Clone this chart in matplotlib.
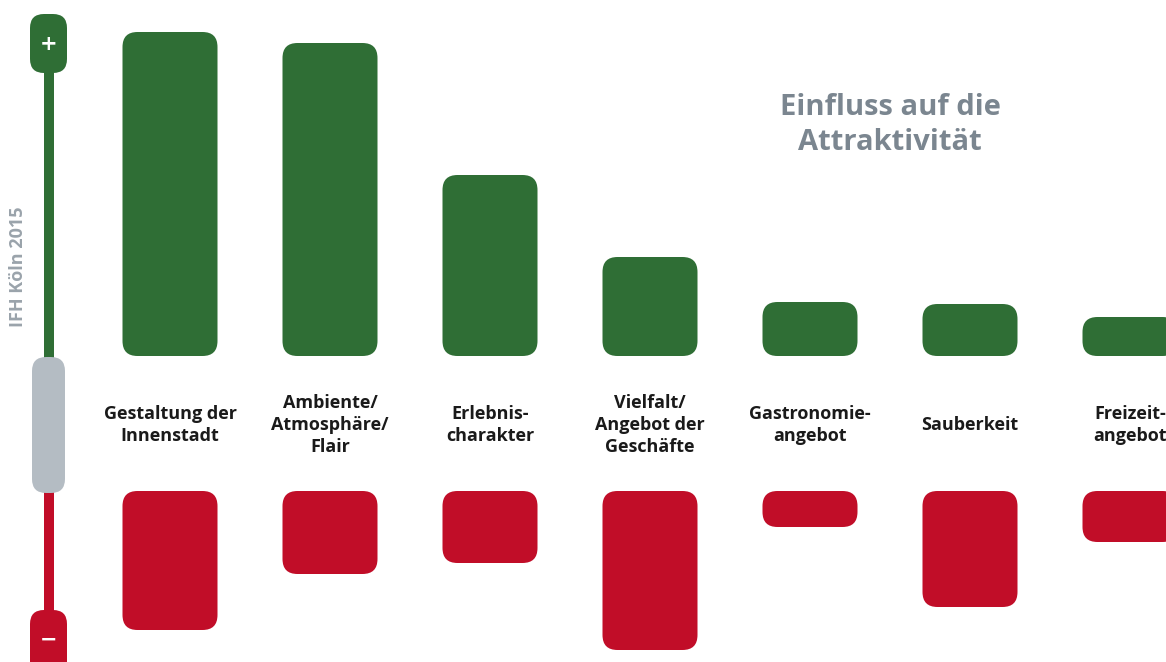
import matplotlib
matplotlib.use("Agg")
import matplotlib.pyplot as plt
from matplotlib.patches import FancyBboxPatch

# ---- data (relative influence, arbitrary units) ----
categories = ["Gestaltung der\nInnenstadt", "Ambiente/\nAtmosphäre/\nFlair",
              "Erlebnis-\ncharakter", "Vielfalt/\nAngebot der\nGeschäfte",
              "Gastronomie-\nangebot", "Sauberkeit", "Freizeit-\nangebot"]
positive = [324, 313, 181, 99, 54, 52, 39]
negative = [139, 83, 72, 159, 36, 116, 51]
title = "Einfluss auf die\nAttraktivität"
source = "IFH Köln 2015"

GREEN = "#2f6e35"
RED = "#c10d28"
GREY = "#b4bcc3"
TITLE_GREY = "#7b8690"

W, H = 1166, 662
fig = plt.figure(figsize=(W / 100, H / 100), dpi=100)
fig.patch.set_facecolor("white")

def fy(px):  # figure fraction from pixel-from-top
    return 1 - px / H

# x mapping: category i centre at 170 + 160*i px
x0 = -170 / 160
x1 = (W - 170) / 160
bar_w = 95 / 160

ax_top = fig.add_axes([0, fy(356), 1, 356 / H])
ax_top.set_xlim(x0, x1)
ax_top.set_ylim(0, 356)
ax_bot = fig.add_axes([0, 0, 1, (H - 491) / H])
ax_bot.set_xlim(x0, x1)
ax_bot.set_ylim(-(H - 491), 0)
for a in (ax_top, ax_bot):
    a.axis("off")

def rounded_bars(ax, values, sign, color, radius_px=15):
    fig.canvas.draw()
    bb = ax.get_window_extent()
    xl = ax.get_xlim(); yl = ax.get_ylim()
    xu = (xl[1] - xl[0]) / bb.width
    yu = (yl[1] - yl[0]) / bb.height
    aspect = yu / xu
    for i, v in enumerate(values):
        h = abs(v)
        r_px = min(radius_px, h / yu / 2.0)
        y = 0 if sign > 0 else -h
        p = FancyBboxPatch((i - bar_w / 2, y), bar_w, h,
                           boxstyle=f"round,pad=0,rounding_size={r_px * xu}",
                           mutation_aspect=aspect, fc=color, ec="none",
                           clip_on=True)
        ax.add_patch(p)

rounded_bars(ax_top, positive, 1, GREEN)
rounded_bars(ax_bot, negative, -1, RED)

# category labels
for i, c in enumerate(categories):
    fig.text((170 + 160 * i) / W, fy(425), c, ha="center", va="center",
             fontsize=13, fontweight="bold", color="#1a1a1a",
             family="Open Sans", linespacing=1.3)

# title
fig.text(890 / W, fy(125), title, ha="center", va="center", fontsize=21,
         fontweight="bold", color=TITLE_GREY, family="Open Sans",
         linespacing=1.24)

# source, vertical
fig.text(18 / W, fy(267), source, rotation=90, ha="center", va="center",
         fontsize=13, fontweight="bold", color="#9aa3ab", family="Open Sans")

# left scale decoration (pixel-space overlay)
deco = fig.add_axes([0, 0, 1, 1], zorder=-1)
deco.set_xlim(0, W)
deco.set_ylim(H, 0)
deco.axis("off")
deco.add_patch(plt.Rectangle((44, 60), 10, 300, fc=GREEN, ec="none"))
deco.add_patch(plt.Rectangle((44, 480), 10, 140, fc=RED, ec="none"))
deco.add_patch(FancyBboxPatch((30, 14), 37, 59,
               boxstyle="round,pad=0,rounding_size=14", fc=GREEN, ec="none"))
deco.add_patch(FancyBboxPatch((32, 357), 33, 136,
               boxstyle="round,pad=0,rounding_size=14", fc=GREY, ec="none"))
deco.add_patch(FancyBboxPatch((30, 610), 37, 70,
               boxstyle="round,pad=0,rounding_size=14", fc=RED, ec="none"))
deco.text(48.5, 44, "+", ha="center", va="center", color="white",
          fontsize=15, fontweight="bold", family="DejaVu Sans")
deco.text(48.5, 640, "−", ha="center", va="center", color="white",
          fontsize=15, fontweight="bold", family="DejaVu Sans")

fig.savefig("out.png", dpi=100, facecolor="white")
